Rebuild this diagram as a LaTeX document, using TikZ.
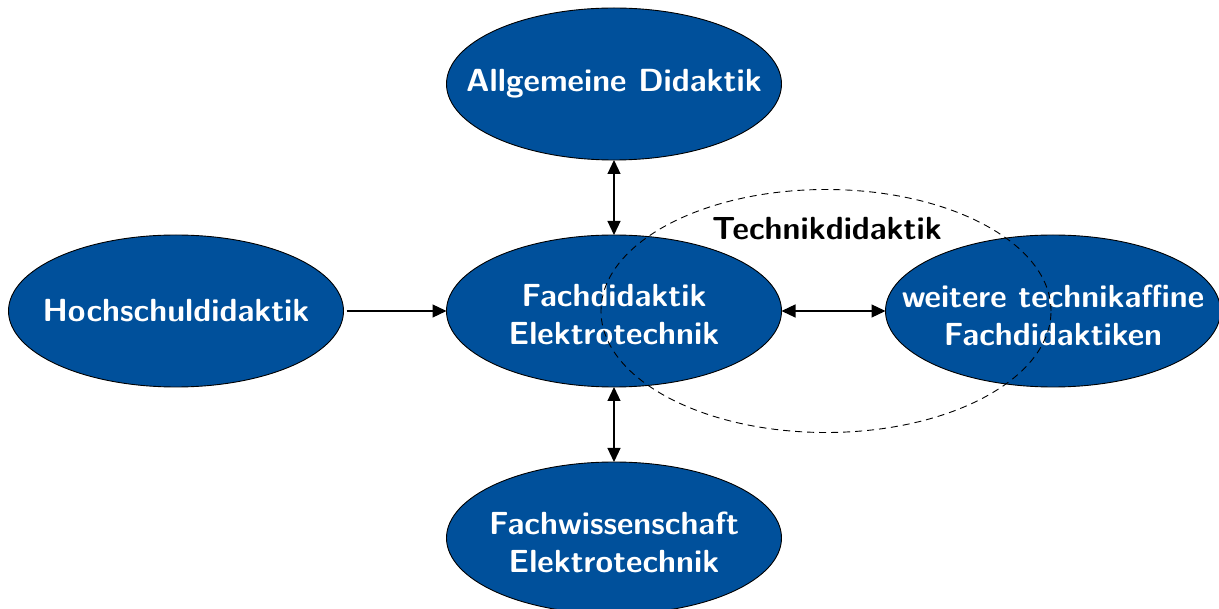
\documentclass[tikz,border=0pt]{standalone}
\usetikzlibrary{shapes.geometric,arrows.meta}
\definecolor{unblue}{RGB}{0,80,155}
\begin{document}
\begin{tikzpicture}[x=1pt,y=-1pt,
  fieldtext/.style={text=white, align=center, inner sep=0pt,
    font=\fontsize{32}{38}\selectfont\sffamily\bfseries},
  fieldshape/.style={ellipse, draw=black, line width=0.9pt, fill=unblue,
    minimum width=335pt, minimum height=152pt, inner sep=0pt, outer sep=0pt},
  field/.style={fieldshape, label={[fieldtext]center:#1}},
  fieldtwo/.style={fieldshape, label={[fieldtext, yshift=-4pt]center:#1}},
  tip/.tip={Triangle[length=14pt,width=13pt]},
  link/.style={line width=1.2pt, -tip},
  twolink/.style={line width=1.2pt, tip-tip},
  area/.style={dash pattern=on 7pt off 5pt, line width=0.9pt}]
\useasboundingbox (0,0) rectangle (1219,609);
\begin{scope}
\clip (0,0) rectangle (1219,609);
\node[field={Allgemeine Didaktik}] (allg) at (614,84) {};
\node[fieldtwo={Fachdidaktik\\Elektrotechnik}] (fach) at (614,311) {};
\node[fieldtwo={Fachwissenschaft\\Elektrotechnik}] (wiss) at (614,538) {};
\node[field={Hochschuldidaktik}] (hoch) at (176,311) {};
\node[fieldtwo={weitere technikaffine\\Fachdidaktiken}] (weit) at (1053,311) {};

\draw[twolink] (allg) -- (fach);
\draw[twolink] (fach) -- (wiss);
\draw[twolink] (fach) -- (weit);
\draw[link, shorten <=3pt] (hoch) -- (fach);

% technology education region around both subject didactics
\node[ellipse, area, draw, minimum width=450pt, minimum height=243pt, inner sep=0pt] (tech) at (826,311) {};
\node[font=\fontsize{32}{38}\selectfont\sffamily\bfseries] (techlabel) at (827,229) {Technikdidaktik};
\end{scope}
\end{tikzpicture}
\end{document}
